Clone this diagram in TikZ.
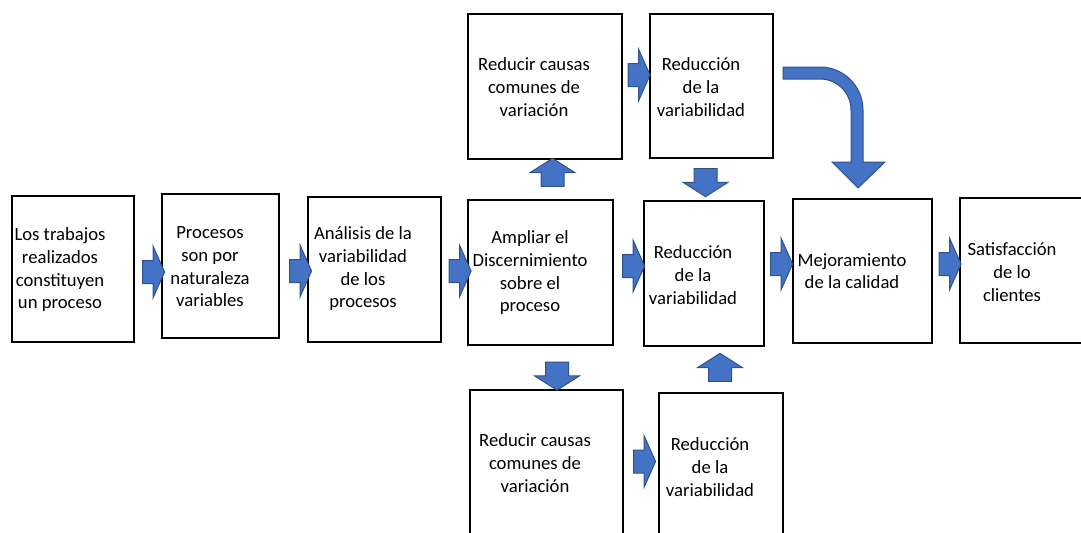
\documentclass[tikz,border=0pt]{standalone}
\usepackage{fontspec}
\setmainfont{Carlito}
\usepackage{xcolor}
\usetikzlibrary{shapes.arrows, calc}

\definecolor{arrowfill}{HTML}{4472C4}
\definecolor{arrowline}{HTML}{2F528F}

\begin{document}
\begin{tikzpicture}[
    x=0.75pt, y=-0.75pt,
    font=\fontsize{14}{17}\selectfont,
    box/.style      ={draw, line width=1.5pt, inner sep=0pt},
    wh/.style 2 args={minimum width=#1*0.75pt, minimum height=#2*0.75pt},
    txt/.style      ={align=center, inner sep=0pt},
    blockarrow/.style={single arrow, draw=arrowline, fill=arrowfill,
                       line width=0.75pt, inner xsep=0pt, inner ysep=8.25pt,
                       single arrow head indent=0pt},
    rarrow/.style   ={blockarrow, minimum height=16.5pt, minimum width=37.5pt,
                       single arrow head extend=10.5pt, single arrow tip angle=132},
    varrow/.style   ={blockarrow, minimum height=21pt, minimum width=33pt,
                       single arrow head extend=8.25pt, single arrow tip angle=115}
]
\useasboundingbox (0,0) rectangle (1081,532);
\clip (0,0) rectangle (1081,532);

% Main row
\node[box, wh={122}{146}] (b1) at (73,269) {};
\node[box, wh={117}{144}] (b2) at (220.5,266) {};
\node[box, wh={133}{145}] (b3) at (374.5,269.5) {};
\node[box, wh={145}{145}] (b4) at (540.5,272.5) {};
\node[box, wh={120}{145}] (b5) at (704,273.5) {};
\node[box, wh={139}{144}] (b6) at (862.5,271) {};
\node[box, wh={130}{145}] (b7) at (1025,270.5) {};

\node[txt] (b1t) at (60,270)  {Los trabajos\\realizados\\constituyen\\un proceso};
\node[txt] (b2t) at (210,267) {Procesos\\son por\\naturaleza\\variables};
\node[txt] (b3t) at (363,269) {Análisis de la\\variabilidad\\de los\\procesos};
\node[txt] (b4t) at (530,273) {Ampliar el\\Discernimiento\\sobre el\\proceso};
\node[txt] (b5t) at (693,275) {Reducción\\de la\\variabilidad};
\node[txt] (b6t) at (852,271) {Mejoramiento\\de la calidad};
\node[txt] (b7t) at (1012,272) {Satisfacción\\de lo\\clientes};

% Upper branch
\node[box, wh={154}{145}] (t1) at (545,86.5) {};
\node[box, wh={123}{144}] (t2) at (711.5,86) {};
\node[txt] (t1t) at (534,87) {Reducir causas\\comunes de\\variación};
\node[txt] (t2t) at (701,87) {Reducción\\de la\\variabilidad};

% Lower branch (cut by the page edge)
\node[box, wh={153}{155}] (d1) at (546.5,467.5) {};
\node[box, wh={124}{152}] (d2) at (721,469) {};
\node[txt] (d1t) at (535,463) {Reducir causas\\comunes de\\variación};
\node[txt] (d2t) at (710,467) {Reducción\\de la\\variabilidad};

% Block arrows
\node[rarrow] (a12) at (151,272) {};
\node[rarrow] (a23) at (298,271) {};
\node[rarrow] (a34) at (457.5,271) {};
\node[rarrow] (a45) at (631,266) {};
\node[rarrow] (a56) at (779,264) {};
\node[rarrow] (a67) at (947.5,264) {};
\node[rarrow] (at) at (636.5,75) {};
\node[rarrow] (ad) at (642,461.5) {};

\node[varrow, rotate=90]  (ut) at (552.5,176) {};
\node[varrow, rotate=-90] (dt) at (705.5,179) {};
\node[varrow, rotate=-90] (dd) at (557,372.5) {};
\node[varrow, rotate=90]  (ud) at (720,371) {};

% Bent arrow: upper result -> quality
\draw[draw=arrowline, fill=arrowfill, line width=0.75pt]
    (783,67) -- (820,67) arc[start angle=270, end angle=360, radius=43]
    -- (863,162) -- (885,162) -- (858,188) -- (832,162) -- (851,162)
    -- (851,110) arc[start angle=0, end angle=-90, radius=31]
    -- (783,79) -- cycle;

\end{tikzpicture}
\end{document}
